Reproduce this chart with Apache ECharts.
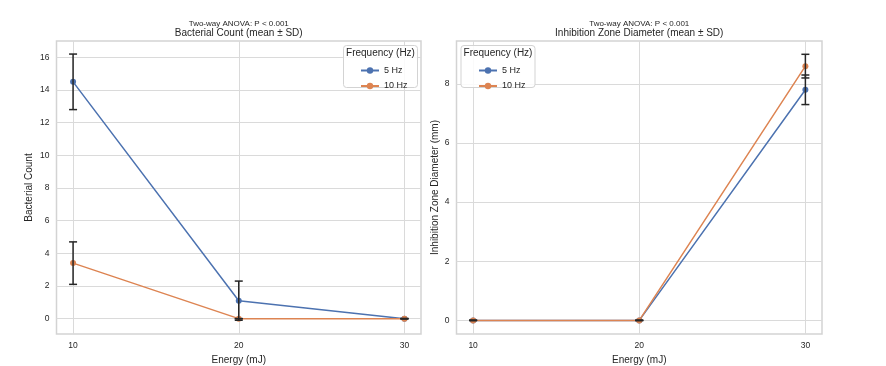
<!DOCTYPE html>
<html>
<head>
<meta charset="utf-8">
<script src="https://cdn.jsdelivr.net/npm/echarts@6/dist/echarts.min.js"></script>
<style>
html,body{margin:0;padding:0;background:#fff;}
#chart{width:886px;height:366px;}
</style>
</head>
<body>
<div id="chart"></div>
<script>
// ---- data ----
const energy = [10, 20, 30];
const xTicks = [10, 20, 30];
const seriesNames = ['5 Hz', '10 Hz'];

const bact5 = [14.5, 1.1, 0];
const bact5Sd = [1.7, 1.2, 0];
const bact10 = [3.4, 0, 0];
const bact10Sd = [1.3, 0, 0];
const bactTicks = [0, 2, 4, 6, 8, 10, 12, 14, 16];

const inhib5 = [0, 0, 7.8];
const inhib5Sd = [0, 0, 0.5];
const inhib10 = [0, 0, 8.6];
const inhib10Sd = [0, 0, 0.4];
const inhibTicks = [0, 2, 4, 6, 8];

const leftTitle = 'Bacterial Count (mean ± SD)';
const rightTitle = 'Inhibition Zone Diameter (mean ± SD)';
const anovaText = 'Two-way ANOVA: P < 0.001';
const legendTitle = 'Frequency (Hz)';

// ---- style ----
const FONT = '"Liberation Sans", Arial, sans-serif';
const TXT = '#262626';
const BLUE = '#4c72b0';
const ORANGE = '#dd8452';
const GRIDC = '#dadada';

const pts = (xs, ys) => xs.map((x, i) => [x, ys[i]]);
const errs = (xs, ys, sd) => xs.map((x, i) => [x, ys[i] - sd[i], ys[i] + sd[i]]);

function renderErr(params, api) {
  const x = api.value(0), lo = api.value(1), hi = api.value(2);
  const p1 = api.coord([x, lo]), p2 = api.coord([x, hi]);
  const w = 4;
  const st = {stroke: '#262626', lineWidth: 1.5};
  return {type: 'group', children: [
    {type: 'line', shape: {x1: p1[0], y1: p1[1], x2: p2[0], y2: p2[1]}, style: st},
    {type: 'line', shape: {x1: p1[0] - w, y1: p1[1], x2: p1[0] + w, y2: p1[1]}, style: st},
    {type: 'line', shape: {x1: p2[0] - w, y1: p2[1], x2: p2[0] + w, y2: p2[1]}, style: st}
  ]};
}

function xAxisOpt(gi) {
  return {
    type: 'value', gridIndex: gi, min: 9, max: 31,
    name: 'Energy (mJ)', nameLocation: 'middle', nameGap: 18,
    nameTextStyle: {fontFamily: FONT, fontSize: 10, color: TXT},
    axisLine: {show: false}, axisTick: {show: false, customValues: xTicks},
    axisLabel: {customValues: xTicks, margin: 7, fontFamily: FONT, fontSize: 8.5, color: TXT},
    splitLine: {show: true, lineStyle: {color: GRIDC, width: 1}}
  };
}
function yAxisOpt(gi, min, max, ticks, name, gap) {
  return {
    type: 'value', gridIndex: gi, min: min, max: max,
    name: name, nameLocation: 'middle', nameGap: gap,
    nameTextStyle: {fontFamily: FONT, fontSize: 10, color: TXT},
    axisLine: {show: false}, axisTick: {show: false, customValues: ticks},
    axisLabel: {customValues: ticks, margin: 7, fontFamily: FONT, fontSize: 8.5, color: TXT},
    splitLine: {show: true, lineStyle: {color: GRIDC, width: 1}}
  };
}
function lineSeries(name, color, gi, data) {
  return {
    type: 'line', name: name, xAxisIndex: gi, yAxisIndex: gi,
    data: data, symbol: 'circle', symbolSize: 6, showSymbol: true,
    lineStyle: {color: color, width: 1.5}, itemStyle: {color: color},
    animation: false, z: 3
  };
}
function errSeries(gi, data) {
  return {
    type: 'custom', xAxisIndex: gi, yAxisIndex: gi, data: data,
    renderItem: renderErr, encode: {x: 0, y: [1, 2]}, animation: false, z: 4, silent: true
  };
}

const grids = [
  {left: 56.5, top: 41, width: 364.5, height: 293, show: true, borderColor: '#d3d3d3', borderWidth: 1.5, backgroundColor: '#fff', containLabel: false, outerBoundsMode: 'none'},
  {left: 456.5, top: 41, width: 365.5, height: 293, show: true, borderColor: '#d3d3d3', borderWidth: 1.5, backgroundColor: '#fff', containLabel: false, outerBoundsMode: 'none'}
];

function titleTexts(cx, main) {
  return [
    {type: 'text', x: cx, y: 23.5, z: 10, style: {text: anovaText, fill: TXT, font: '8px ' + FONT, textAlign: 'center', textVerticalAlign: 'middle'}},
    {type: 'text', x: cx, y: 33.5, z: 10, style: {text: main, fill: TXT, font: '10px ' + FONT, textAlign: 'center', textVerticalAlign: 'middle'}}
  ];
}
function legendBox(x, y) {
  return [
    {type: 'rect', shape: {x: x, y: y, width: 74, height: 42, r: 3}, style: {fill: 'rgba(255,255,255,0.85)', stroke: '#d3d3d3', lineWidth: 1}, z: 5},
    {type: 'text', x: x + 37, y: y + 8, z: 6, style: {text: legendTitle, fill: TXT, font: '10px ' + FONT, textAlign: 'center', textVerticalAlign: 'middle'}}
  ];
}
function legendOpt(left) {
  return {
    data: seriesNames, orient: 'vertical', left: left, top: 61, itemWidth: 18, itemHeight: 8, itemGap: 6.5,
    textStyle: {fontFamily: FONT, fontSize: 9, color: TXT}, selectedMode: false, z: 7
  };
}

const option = {
  backgroundColor: '#fff',
  animation: false,
  grid: grids,
  xAxis: [xAxisOpt(0), xAxisOpt(1)],
  yAxis: [
    yAxisOpt(0, -0.94, 17.0, bactTicks, 'Bacterial Count', 22),
    yAxisOpt(1, -0.46, 9.45, inhibTicks, 'Inhibition Zone Diameter (mm)', 16)
  ],
  legend: [legendOpt(355), legendOpt(473)],
  series: [
    lineSeries(seriesNames[0], BLUE, 0, pts(energy, bact5)),
    lineSeries(seriesNames[1], ORANGE, 0, pts(energy, bact10)),
    errSeries(0, errs(energy, bact5, bact5Sd)),
    errSeries(0, errs(energy, bact10, bact10Sd)),
    lineSeries(seriesNames[0], BLUE, 1, pts(energy, inhib5)),
    lineSeries(seriesNames[1], ORANGE, 1, pts(energy, inhib10)),
    errSeries(1, errs(energy, inhib5, inhib5Sd)),
    errSeries(1, errs(energy, inhib10, inhib10Sd))
  ],
  graphic: [].concat(
    titleTexts(238.75, leftTitle),
    titleTexts(639.25, rightTitle),
    legendBox(343.5, 45.5),
    legendBox(461, 45.5)
  )
};

const chart = echarts.init(document.getElementById('chart'), null, {renderer: 'canvas'});
chart.setOption(option);
</script>
</body>
</html>
